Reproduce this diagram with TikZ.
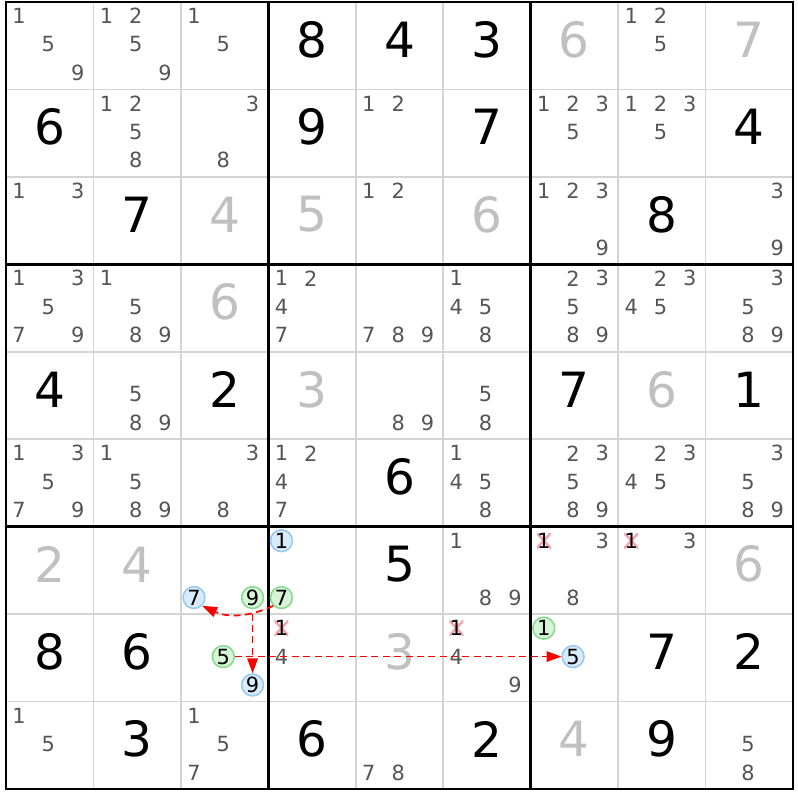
\documentclass[tikz,border=0pt]{standalone}
\usepackage{fontspec}
\setmainfont{DejaVu Sans}
\usetikzlibrary{arrows.meta}

\definecolor{candgray}{HTML}{555555}
\definecolor{givengray}{HTML}{C0C0C0}
\definecolor{gridgray}{HTML}{D4D4D4}
\definecolor{blueline}{HTML}{98C8F2}
\definecolor{bluefill}{HTML}{D8EBFB}
\definecolor{greenline}{HTML}{88D890}
\definecolor{greenfill}{HTML}{D6F5D6}
\definecolor{crosspink}{HTML}{F5A3AE}

\tikzset{
  solved/.style={inner sep=0pt,font=\fontsize{15.8}{16}\selectfont,black},
  given/.style={solved,givengray},
  cand/.style={inner sep=0pt,font=\fontsize{6.8}{7}\selectfont,candgray},
  oncand/.style={cand,black,circle,draw=blueline,fill=bluefill,minimum size=0.25cm,line width=0.5pt},
  offcand/.style={oncand,draw=greenline,fill=greenfill},
  struck/.style={cand,black,minimum width=0.16cm,minimum height=0.16cm,
    path picture={\draw[crosspink,line width=0.8pt]
      (path picture bounding box.south west) -- (path picture bounding box.north east)
      (path picture bounding box.north west) -- (path picture bounding box.south east);}},
  link/.style={red,line width=0.55pt,dash pattern=on 0.08cm off 0.05cm,
    -{Triangle[length=0.17cm,width=0.12cm]}},
}

% candidates of one cell: [style]{row}{col}{digits}
\newcommand\cands[4][cand]{%
  \foreach \k in {#4}{%
    \pgfmathtruncatemacro\ci{mod(\k-1,3)}%
    \pgfmathtruncatemacro\cj{div(\k-1,3)}%
    \node[#1] (c#2#3-\k) at ({#3-0.85+0.335*\ci},{10-#2-0.16-0.325*\cj}) {\k};}}

\begin{document}
\begin{tikzpicture}
\fill[white] (-0.068,-0.125) rectangle (9.057,9.023);
\useasboundingbox (-0.068,-0.125) rectangle (9.057,9.023);

% grid
\foreach \i in {1,2,4,5,7,8} {
  \draw[gridgray,line width=0.5pt] (\i,0) -- (\i,9);
  \draw[gridgray,line width=0.5pt] (0,\i) -- (9,\i);
}
\foreach \i in {0,3,6,9} {
  \draw[black,line width=0.8pt] (\i,-0.012) -- (\i,9.012);
  \draw[black,line width=0.8pt] (-0.012,\i) -- (9.012,\i);
}

% row 1
\node[solved] (d14) at (3.5,8.57) {8};
\node[solved] (d15) at (4.5,8.57) {4};
\node[solved] (d16) at (5.5,8.57) {3};
\node[given] (d17) at (6.5,8.57) {6};
\node[given] (d19) at (8.5,8.57) {7};
% row 2
\node[solved] (d21) at (0.5,7.57) {6};
\node[solved] (d24) at (3.5,7.57) {9};
\node[solved] (d26) at (5.5,7.57) {7};
\node[solved] (d29) at (8.5,7.57) {4};
% row 3
\node[solved] (d32) at (1.5,6.57) {7};
\node[given] (d33) at (2.5,6.57) {4};
\node[given] (d34) at (3.5,6.57) {5};
\node[given] (d36) at (5.5,6.57) {6};
\node[solved] (d38) at (7.5,6.57) {8};
% row 4
\node[given] (d43) at (2.5,5.57) {6};
% row 5
\node[solved] (d51) at (0.5,4.57) {4};
\node[solved] (d53) at (2.5,4.57) {2};
\node[given] (d54) at (3.5,4.57) {3};
\node[solved] (d57) at (6.5,4.57) {7};
\node[given] (d58) at (7.5,4.57) {6};
\node[solved] (d59) at (8.5,4.57) {1};
% row 6
\node[solved] (d65) at (4.5,3.57) {6};
% row 7
\node[given] (d71) at (0.5,2.57) {2};
\node[given] (d72) at (1.5,2.57) {4};
\node[solved] (d75) at (4.5,2.57) {5};
\node[given] (d79) at (8.5,2.57) {6};
% row 8
\node[solved] (d81) at (0.5,1.57) {8};
\node[solved] (d82) at (1.5,1.57) {6};
\node[given] (d85) at (4.5,1.57) {3};
\node[solved] (d88) at (7.5,1.57) {7};
\node[solved] (d89) at (8.5,1.57) {2};
% row 9
\node[solved] (d92) at (1.5,0.57) {3};
\node[solved] (d94) at (3.5,0.57) {6};
\node[solved] (d96) at (5.5,0.57) {2};
\node[given] (d97) at (6.5,0.57) {4};
\node[solved] (d98) at (7.5,0.57) {9};

% pencil marks
\cands{1}{1}{1,5,9} \cands{1}{2}{1,2,5,9} \cands{1}{3}{1,5} \cands{1}{8}{1,2,5}
\cands{2}{2}{1,2,5,8} \cands{2}{3}{3,8} \cands{2}{5}{1,2} \cands{2}{7}{1,2,3,5} \cands{2}{8}{1,2,3,5}
\cands{3}{1}{1,3} \cands{3}{5}{1,2} \cands{3}{7}{1,2,3,9} \cands{3}{9}{3,9}
\cands{4}{1}{1,3,5,7,9} \cands{4}{2}{1,5,8,9} \cands{4}{4}{1,2,4,7} \cands{4}{5}{7,8,9}
\cands{4}{6}{1,4,5,8} \cands{4}{7}{2,3,5,8,9} \cands{4}{8}{2,3,4,5} \cands{4}{9}{3,5,8,9}
\cands{5}{2}{5,8,9} \cands{5}{5}{8,9} \cands{5}{6}{5,8}
\cands{6}{1}{1,3,5,7,9} \cands{6}{2}{1,5,8,9} \cands{6}{3}{3,8} \cands{6}{4}{1,2,4,7}
\cands{6}{6}{1,4,5,8} \cands{6}{7}{2,3,5,8,9} \cands{6}{8}{2,3,4,5} \cands{6}{9}{3,5,8,9}
\cands{7}{6}{1,8,9} \cands{7}{7}{3,8} \cands{7}{8}{3}
\cands{8}{4}{4} \cands{8}{6}{4,9}
\cands{9}{1}{1,5} \cands{9}{3}{1,5,7} \cands{9}{5}{7,8} \cands{9}{9}{5,8}

% chain
\cands[oncand]{7}{3}{7} \cands[offcand]{7}{3}{9}
\cands[oncand]{7}{4}{1} \cands[offcand]{7}{4}{7}
\cands[offcand]{8}{3}{5} \cands[oncand]{8}{3}{9}
\cands[offcand]{8}{7}{1} \cands[oncand]{8}{7}{5}
\cands[struck]{7}{7}{1} \cands[struck]{7}{8}{1}
\cands[struck]{8}{4}{1} \cands[struck]{8}{6}{1}

\draw[link] (c74-7.south west) to[bend left=25] (c73-7.south east);
\draw[link,shorten <=0.05cm] (c73-9.south) -- (c83-9.north);
\draw[link] (c83-5.east) -- (c87-5.west);
\end{tikzpicture}
\end{document}
